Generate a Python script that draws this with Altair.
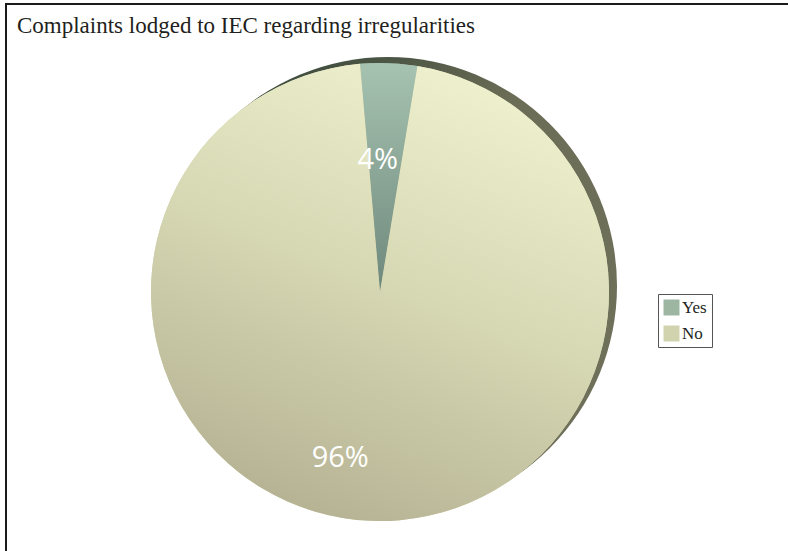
import altair as alt
import pandas as pd
import math

categories = ["Yes", "No"]
values = [4, 96]
labels = ["4%", "96%"]
order = [0, 1]

title_text = "Complaints lodged to IEC regarding irregularities"

df = pd.DataFrame({"category": categories, "value": values, "label": labels, "order": order})

W, H = 782, 547
CX, CY, R = 374, 288, 229
start = -math.radians(5)

grad_no = alt.LinearGradient(
    gradient="linear", x1=0.75, y1=0.0, x2=0.35, y2=1.0,
    stops=[alt.GradientStop(color="#f1f2cf", offset=0),
           alt.GradientStop(color="#d6d7b3", offset=0.5),
           alt.GradientStop(color="#b5b293", offset=1)])
grad_yes = alt.LinearGradient(
    gradient="linear", x1=0.5, y1=0.0, x2=0.5, y2=1.0,
    stops=[alt.GradientStop(color="#a6c2b0", offset=0),
           alt.GradientStop(color="#6e897c", offset=1)])
grad_rim = alt.LinearGradient(
    gradient="linear", x1=0.3, y1=0.0, x2=0.8, y2=0.8,
    stops=[alt.GradientStop(color="#3c4a3c", offset=0),
           alt.GradientStop(color="#6c6d56", offset=0.35),
           alt.GradientStop(color="#6f705a", offset=1)])

theta_enc = alt.Theta("value:Q", stack=True,
                      scale=alt.Scale(range=[start, start + 2 * math.pi]))
order_enc = alt.Order("order:Q")

rim = alt.Chart(alt.Data(values=[{"k": 1}])).mark_arc(
    radius=R, theta=0, theta2=2 * math.pi, fill=grad_rim, stroke=None
).encode(x=alt.value(CX + 8), y=alt.value(CY - 6))

base = alt.Chart(df).mark_arc(radius=R, stroke=None).encode(
    theta=theta_enc,
    order=order_enc,
    x=alt.value(CX), y=alt.value(CY),
    color=alt.Color("category:N",
                    scale=alt.Scale(domain=categories, range=["#9db6a1", "#d0d3ae"]),
                    sort=categories,
                    legend=alt.Legend(
                        title=None, orient="none", legendX=652, legendY=290,
                        symbolType="square", symbolSize=256, symbolStrokeWidth=0,
                        labelFont="Liberation Serif", labelFontSize=17, labelColor="#231f20",
                        labelOffset=2, rowPadding=8, padding=5,
                        strokeColor="#555555", fillColor="white")),
)

shaded = alt.Chart(df).mark_arc(radius=R, stroke=None).encode(
    theta=theta_enc,
    order=order_enc,
    x=alt.value(CX), y=alt.value(CY),
    fill=alt.condition("datum.category === 'Yes'", alt.value(grad_yes), alt.value(grad_no)),
)

text = alt.Chart(df).mark_text(
    radius=150, font="Open Sans", fontSize=29, color="white", fontWeight=400
).encode(
    theta=alt.Theta("value:Q", stack=True, scale=alt.Scale(range=[0, 2 * math.pi])),
    order=order_enc,
    text="label:N",
    x=alt.value(353), y=alt.value(305),
)

frame_top = alt.Chart(alt.Data(values=[{"k": 1}])).mark_rule(
    color="#1a1a1a", strokeWidth=2
).encode(x=alt.value(-1), x2=alt.value(W + 10), y=alt.value(0))
frame_left = alt.Chart(alt.Data(values=[{"k": 1}])).mark_rule(
    color="#1a1a1a", strokeWidth=2
).encode(x=alt.value(0), y=alt.value(-1), y2=alt.value(H + 10))

title = alt.Chart(alt.Data(values=[{"t": title_text}])).mark_text(
    align="left", baseline="alphabetic", font="Liberation Serif", fontSize=23, color="#231f20"
).encode(x=alt.value(11), y=alt.value(29), text="t:N")

chart = alt.layer(rim, base, shaded, text, frame_top, frame_left, title).resolve_scale(
    theta="independent"
).properties(
    width=W, height=H,
    autosize=alt.AutoSizeParams(type="none"),
    padding={"left": 6, "top": 4, "right": 0, "bottom": 0},
).configure_view(stroke=None)

chart.save("out.html", embed_options={"renderer": "svg", "actions": False})
